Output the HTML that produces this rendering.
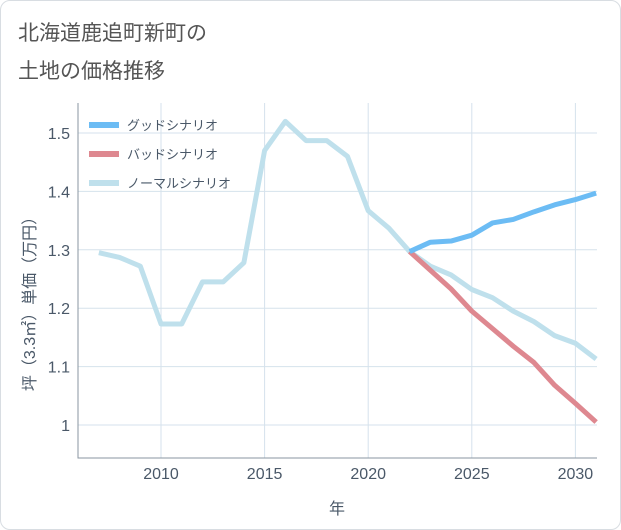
<!DOCTYPE html>
<html><head><meta charset="utf-8"><style>
body{margin:0;background:#fff;font-family:"Liberation Sans","Noto Sans CJK JP",sans-serif;}
#card{position:absolute;left:0;top:0;width:619px;height:528px;border:1px solid #d8dde2;border-radius:10px;background:#fff;}
</style></head><body>
<div id="card">
<svg id="chart" width="621" height="530" style="position:absolute;left:-1px;top:-1px">
<text x="18" y="40" font-size="21" fill="#555" font-family="Liberation Sans,Noto Sans CJK JP,sans-serif">北海道鹿追町新町の</text>
<text x="18" y="78" font-size="21" fill="#555" font-family="Liberation Sans,Noto Sans CJK JP,sans-serif">土地の価格推移</text>
<g id="grid"></g><g id="series"></g><g id="axes"></g>
</svg></div>
<script>
const years=[2007,2008,2009,2010,2011,2012,2013,2014,2015,2016,2017,2018,2019,2020,2021,2022,2023,2024,2025,2026,2027,2028,2029,2030,2031];
const normal=[1.295,1.287,1.272,1.173,1.173,1.245,1.245,1.278,1.47,1.52,1.487,1.487,1.46,1.367,1.337,1.297,1.272,1.257,1.232,1.218,1.195,1.177,1.153,1.14,1.113];
const goodYears=[2022,2023,2024,2025,2026,2027,2028,2029,2030,2031];
const good=[1.297,1.313,1.315,1.325,1.346,1.352,1.365,1.377,1.386,1.397];
const bad=[1.297,1.265,1.233,1.195,1.165,1.135,1.107,1.068,1.037,1.005];
const xTicks=[2010,2015,2020,2025,2030];
const yTicks=[1,1.1,1.2,1.3,1.4,1.5];
const yTickLabels=["1","1.1","1.2","1.3","1.4","1.5"];
const L=78,R=597,T=103,B=458;
const TXT='#4a5868';
const x=v=>161+(v-2010)*20.72;
const y=v=>425-(v-1)*584;
const NS="http://www.w3.org/2000/svg";
function mk(tag,attrs,parent){const e=document.createElementNS(NS,tag);for(const k in attrs)e.setAttribute(k,attrs[k]);parent.appendChild(e);return e;}
const grid=document.getElementById('grid'),ser=document.getElementById('series'),ax=document.getElementById('axes');
xTicks.forEach(t=>{const l=mk('line',{x1:x(t),x2:x(t),y1:T,y2:B,stroke:'#d5e2ec','stroke-width':1},grid);

const tx=mk('text',{x:x(t),y:B+21,'text-anchor':'middle','font-size':16,fill:TXT},ax);tx.textContent=t;
});
yTicks.forEach((t,i)=>{const l=mk('line',{x1:L,x2:R,y1:y(t),y2:y(t),stroke:'#d5e2ec','stroke-width':1},grid);

const tx=mk('text',{x:L-8,y:y(t)+6,'text-anchor':'end','font-size':16,fill:TXT},ax);tx.textContent=yTickLabels[i];
});
const axl=mk('path',{d:`M${L},${T}V${B}H${R}`,stroke:'#8a96a0',fill:'none','stroke-width':1},ax);

function line(xs,vs,color,name){const p=mk('polyline',{points:xs.map((t,i)=>x(t)+','+y(vs[i])).join(' '),fill:'none',stroke:color,'stroke-width':5,'stroke-linejoin':'round'},ser);
}
line(years,normal,'#bfe0ec','normal-scenario-line');
line(goodYears,bad,'#de8890','bad-scenario-line');
line(goodYears,good,'#6cbcf4','good-scenario-line');
const leg=[['グッドシナリオ','#6cbcf4'],['バッドシナリオ','#de8890'],['ノーマルシナリオ','#bfe0ec']];
leg.forEach((d,i)=>{const yy=125+i*29;
const r=mk('rect',{x:89,y:yy-3,width:30,height:6,fill:d[1]},ax);
const t=mk('text',{x:127,y:yy+5,'font-size':13,fill:TXT},ax);t.textContent=d[0];});
const xt=mk('text',{x:337,y:514,'text-anchor':'middle','font-size':16,fill:TXT},ax);xt.textContent='年';

const yt=mk('text',{x:0,y:0,'text-anchor':'middle','font-size':16,fill:TXT,transform:'translate(35,300) rotate(-90)'},ax);yt.textContent='坪（3.3㎡）単価（万円）';

</script></body></html>
